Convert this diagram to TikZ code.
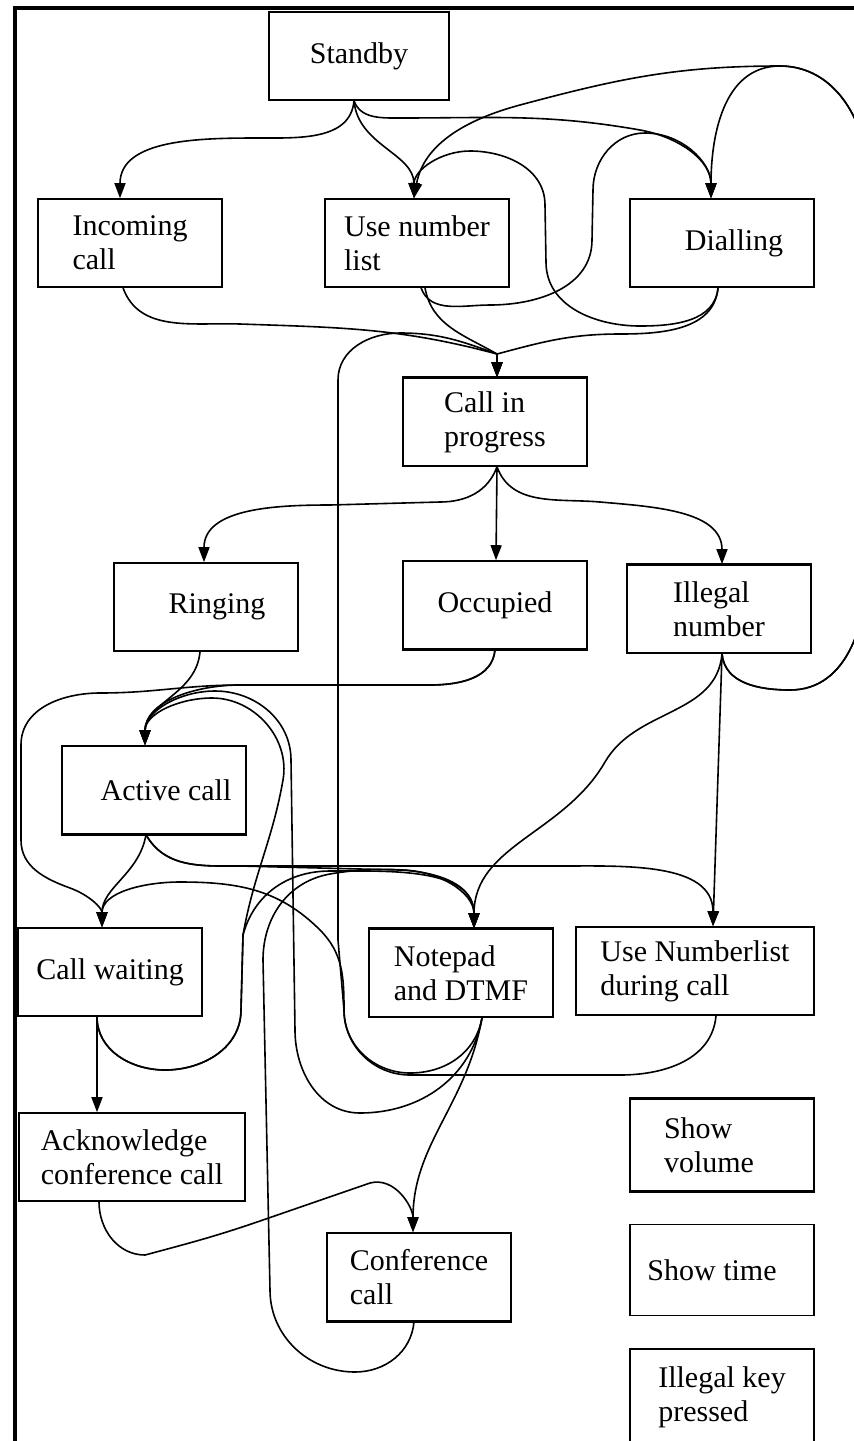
\documentclass[tikz,border=0pt]{standalone}
\usepackage{fontspec}
\setmainfont{Liberation Serif}
\usetikzlibrary{arrows.meta}
\newcommand{\boxfont}{\fontsize{30pt}{34pt}\selectfont}

\begin{document}
\begin{tikzpicture}[x=1pt,y=-1pt,>={Triangle[length=15pt,width=11pt]}]
    \tikzstyle{box}=[draw,line width=1.6pt,minimum width=184pt,minimum height=88pt,align=left,font=\boxfont]
    \tikzstyle{transition}=[->,line width=1.6pt]
    \tikzstyle{heavy}=[line width=3pt]
    \useasboundingbox (0,0) rectangle (854,1441);
    \clip (0,0) rectangle (854,1441);
    \draw[line width=4pt] (854,8) -- (14.5,8) -- (14.5,1441);

    % states
    \node[box,minimum width=180pt] (standby) at (359,56) {Standby};
    \node[box] (incoming) at (130,243) {Incoming\\call};
    \node[box] (uselist) at (417,243) {Use number\\list};
    \node[box] (dialling) at (722,243) {\hspace*{24pt}Dialling};
    \node[box] (progress) at (495,422) {Call in\\progress};
    \node[box] (ringing) at (206,607) {\hspace*{22pt}Ringing};
    \node[box] (occupied) at (495,605) {Occupied};
    \node[box] (illegal) at (719,609) {Illegal\\number};
    \node[box] (active) at (154,790) {\hspace*{24pt}Active call};
    \node[box] (waiting) at (110,972) {Call waiting};
    \node[box] (notepad) at (461,973) {Notepad\\and DTMF};
    \node[box,minimum width=238pt] (duringcall) at (695,971) {Use Numberlist\\during call};
    \node[box,minimum width=226pt] (acknowledge) at (132,1157) {Acknowledge\\conference call};
    \node[box] (conference) at (419,1277) {Conference\\call};
    \node[box,minimum height=92pt] (volume) at (722,1145) {Show\\volume\hspace*{26pt}};
    \node[box,minimum height=91pt] (showtime) at (722,1270) {Show time\hspace*{20pt}};
    \node[box,minimum height=96pt] (illegalkey) at (722,1397) {Illegal key\\pressed};

    \draw[heavy] (progress.north west) -- (progress.north east);
    \draw[heavy] (occupied.south west) -- (occupied.south east);
    \draw[heavy] (illegal.north west) -- (illegal.north east);
    \draw[heavy] (active.south west) -- (active.south east);
    \draw[heavy] (notepad.north west) -- (notepad.north east);
    \draw[heavy] (conference.south west) -- (conference.south east);
    \draw[heavy] (volume.north west) -- (volume.north east);
    \draw[heavy] (volume.south west) -- (volume.south east);

    % from standby
    \draw[transition] ([xshift=-5pt]standby.south) to[out=-95,in=0] (260,138) to[out=180,in=90] ([xshift=-10pt]incoming.north);
    \draw[transition] ([xshift=-5pt]standby.south) to[out=-85,in=90] ([xshift=-3pt]uselist.north);
    \draw[transition] ([xshift=-5pt]standby.south) to[out=-70,in=180] (400,118) to[out=0,in=170] (640,130) to[out=-10,in=90] ([xshift=-11pt]dialling.north);

    % loop back from illegal number, round the right side
    \draw[transition] ([xshift=3pt]illegal.south) to[out=-85,in=180] (790,690) to[out=0,in=-90] (868,560) -- (868,180) to[out=90,in=0] (780,66) to[out=180,in=15] (520,105) to[out=195,in=80] ([xshift=-3pt]uselist.north);
    \draw[transition] ([xshift=3pt]illegal.south) to[out=-85,in=180] (790,690) to[out=0,in=-90] (868,560) -- (868,180) to[out=90,in=0] (780,66) to[out=180,in=90] ([xshift=-11pt]dialling.north);

    % number list <-> dialling
    \draw[transition] ([xshift=4pt]uselist.south) to[out=-70,in=180] (490,305) to[out=0,in=-90] (592,240) -- (593,190) to[out=90,in=180] (645,133) to[out=0,in=90] ([xshift=-11pt]dialling.north);
    \draw[transition] ([xshift=-4pt]dialling.south) to[out=-95,in=0] (640,326) to[out=180,in=-90] (546,262) -- (545,205) to[out=90,in=0] (470,151) to[out=180,in=90] ([xshift=-3pt]uselist.north);

    % into call in progress
    \coordinate (cipin) at (497,354);
    \draw[transition] ([xshift=-7pt]incoming.south) to[out=-70,in=178] (240,324) to[out=-2,in=165] (cipin) -- ([xshift=2pt]progress.north);
    \draw[transition] ([xshift=8pt]uselist.south) to[out=-80,in=150] (cipin) -- ([xshift=2pt]progress.north);
    \draw[transition] ([xshift=-4pt]dialling.south) to[out=-95,in=0] (620,334) to[out=180,in=15] (cipin) -- ([xshift=2pt]progress.north);
    \draw[transition] ([xshift=21pt]notepad.south) to[out=-100,in=0] (410,1073) to[out=180,in=-90] (344,1010) -- (338,940) -- (338,380) to[out=90,in=180] (400,333) to[out=0,in=160] (cipin) -- ([xshift=2pt]progress.north);

    % out of call in progress
    \draw[transition] ([xshift=2pt]progress.south) to[out=-110,in=0] (440,502) -- (330,505) to[out=180,in=90] ([xshift=-2pt]ringing.north);
    \draw[transition] ([xshift=2pt]progress.south) -- ([xshift=1pt]occupied.north);
    \draw[transition] ([xshift=2pt]progress.south) to[out=-70,in=175] (600,502) to[out=-5,in=90] ([xshift=3pt]illegal.north);

    % into active call and call waiting
    \draw[transition] ([xshift=-6pt]ringing.south) to[out=-95,in=90] ([xshift=-9pt]active.north);
    \draw[transition] (occupied.south) to[out=-95,in=0] (430,685) -- (240,685) to[out=180,in=90] ([xshift=-9pt]active.north);
    \draw[transition] (occupied.south) to[out=-95,in=0] (430,685) -- (240,685) to[out=180,in=0] (100,693) to[out=180,in=90] (21,745) -- (21,840) to[out=-90,in=160] (70,888) to[out=-20,in=90] ([xshift=-8pt]waiting.north);

    % illegal number downwards
    \draw[transition] ([xshift=3pt]illegal.south) to[out=-95,in=60] (605,762) to[out=240,in=90] ([xshift=13pt]notepad.north);
    \draw[transition] ([xshift=3pt]illegal.south) -- ([xshift=18pt]duringcall.north);

    % from active call
    \draw[transition] ([xshift=-8pt]active.south) to[out=-100,in=90] ([xshift=-8pt]waiting.north);
    \draw[transition] ([xshift=-8pt]active.south) to[out=-60,in=180] (240,866) -- (400,870) to[out=0,in=90] ([xshift=13pt]notepad.north);
    \draw[transition] ([xshift=-8pt]active.south) to[out=-60,in=180] (240,866) -- (560,866) to[out=0,in=90] ([xshift=18pt]duringcall.north);

    % from call waiting
    \draw[transition] ([xshift=-13pt]waiting.south) -- ([xshift=-35pt]acknowledge.north);
    \draw[transition] ([xshift=-13pt]waiting.south) to[out=-90,in=180] (165,1070) to[out=0,in=-90] (241,1010) -- (243,935) to[out=80,in=-100] (283,780) to[out=80,in=0] (212,698) to[out=180,in=90] ([xshift=-9pt]active.north);
    \draw[transition] ([xshift=-13pt]waiting.south) to[out=-90,in=180] (165,1070) to[out=0,in=-90] (241,1010) -- (243,935) to[out=75,in=180] (330,871) to[out=0,in=90] ([xshift=13pt]notepad.north);

    % from notepad
    \draw[transition] ([xshift=21pt]notepad.south) to[out=-100,in=0] (360,1113) to[out=180,in=-90] (295,1030) -- (291,760) to[out=90,in=0] (215,691) to[out=180,in=90] ([xshift=-9pt]active.north);
    \draw[transition] ([xshift=21pt]notepad.south) to[out=-100,in=90] ([xshift=-6pt]conference.north);

    % from number list during call
    \draw[transition] ([xshift=21pt]duringcall.south) to[out=-95,in=0] (620,1075) -- (410,1075) to[out=180,in=-90] (344,1010) to[out=90,in=-45] (320,930) to[out=135,in=0] (180,882) to[out=180,in=90] ([xshift=-8pt]waiting.north);

    % acknowledge and conference
    \draw[transition] ([xshift=-33pt]acknowledge.south) to[out=-90,in=180] (145,1255) to[out=15,in=199] (260,1221) -- (370,1183) to[out=15,in=90] ([xshift=-6pt]conference.north);
    \draw[transition] ([xshift=-5pt]conference.south) to[out=-95,in=0] (355,1372) to[out=180,in=-90] (270,1290) -- (263,960) to[out=90,in=190] (330,874) to[out=10,in=90] ([xshift=13pt]notepad.north);
\end{tikzpicture}
\end{document}
